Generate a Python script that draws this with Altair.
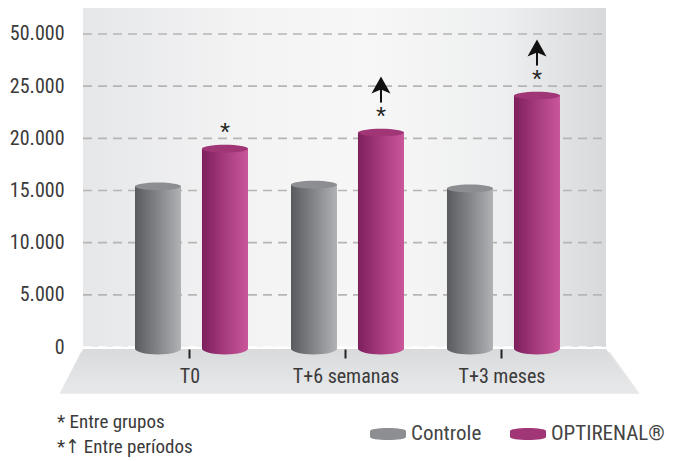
import altair as alt
import pandas as pd

# ---------------- data ----------------
times = ["T0", "T+6 semanas", "T+3 meses"]
groups = ["Controle", "OPTIRENAL®"]
controle = [15400, 15550, 15200]
optirenal = [19000, 20550, 24100]
star_flags = [True, True, True]        # OPTIRENAL: * entre grupos
arrow_flags = [False, True, True]      # OPTIRENAL: arrow entre períodos
y_ticks = [0, 5000, 10000, 15000, 20000, 25000, 30000]
y_tick_labels = ["0", "5.000", "10.000", "15.000", "20.000", "25.000", "50.000"]
notes = ["* Entre grupos", "*\u2191 Entre períodos"]

# ---------------- layout / style ----------------
W, H = 523, 339
YMAX = 32492
U = YMAX / H  # data units per pixel
FONT = "Liberation Sans Narrow, Roboto Condensed, DejaVu Sans Condensed, Arial Narrow, sans-serif"
TXT = "#3a3a3a"

rows = []
for i, t in enumerate(times):
    rows.append(dict(time=t, group=groups[0], value=controle[i], base=0))
    rows.append(dict(time=t, group=groups[1], value=optirenal[i], base=0))
df = pd.DataFrame(rows)

ann = df[df.group == groups[1]].copy().reset_index(drop=True)
ann["star"] = star_flags
ann["arrow"] = arrow_flags
stars_df = ann[ann.star]
arrows_df = ann[ann.arrow].copy()
arrows_df["lo"] = arrows_df["value"] + 30 * U
arrows_df["hi"] = arrows_df["value"] + 46 * U
arrows_df["head"] = arrows_df["value"] + 46 * U

grid_df = pd.DataFrame({"v": y_ticks})
one = pd.DataFrame({"k": [0]})


def hgrad(stops):
    return alt.Gradient(gradient="linear", x1=0, y1=0, x2=1, y2=0,
                        stops=[alt.GradientStop(offset=o, color=c) for o, c in stops])


def vgrad(stops):
    return alt.Gradient(gradient="linear", x1=0, y1=0, x2=0, y2=1,
                        stops=[alt.GradientStop(offset=o, color=c) for o, c in stops])


grad = {
    groups[0]: hgrad([(0, "#5a5b5e"), (0.5, "#848589"), (1, "#b0b2b5")]),
    groups[1]: hgrad([(0, "#7e1f5d"), (0.5, "#a63b7d"), (1, "#c9579a")]),
}
top_colors = ["#8d8e91", "#a13676"]

x_scale = alt.Scale(domain=times, paddingInner=0, paddingOuter=0.1763, align=0.527)
xo_enc = alt.XOffset("group:N", scale=alt.Scale(domain=groups, paddingInner=0.313,
                                                paddingOuter=0.3209, align=0.535))
y_scale = alt.Scale(domain=[0, YMAX], nice=False)

x_plain = alt.X("time:N", sort=times, scale=x_scale)

label_expr = " : ".join(f"datum.value == {v} ? '{l}'" for v, l in zip(y_ticks, y_tick_labels)) + " : ''"

y_axis = alt.Axis(values=y_ticks, labelExpr=label_expr, title=None, domain=False,
                  ticks=False, grid=False, labelFontSize=20, labelFont=FONT,
                  labelColor=TXT, labelPadding=19)
x_axis = alt.Axis(title=None, domain=False, labelAngle=0, tickSize=9, tickWidth=2,
                  tickColor="#222222", offset=2, labelFontSize=20, labelFont=FONT,
                  labelColor=TXT, labelPadding=8, zindex=1, grid=False)

# background panel
panel = alt.Chart(one).mark_rect(
    fill=hgrad([(0, "#e6e7e9"), (0.3, "#f3f3f4"), (0.55, "#f7f7f7"), (0.8, "#eeeff0"), (1, "#d8d9db")])
).encode(x=alt.value(0), x2=alt.value(W), y=alt.value(0), y2=alt.value(H))

# gridlines + y axis
grid = alt.Chart(grid_df).mark_rule(strokeDash=[9, 6], strokeWidth=1.6).encode(
    y=alt.Y("v:Q", scale=y_scale, axis=y_axis),
    x=alt.value(0), x2=alt.value(W),
    color=alt.when(alt.datum.v == 0).then(alt.value("#ffffff")).otherwise(alt.value("#b5b5b5")),
)

# floor (trapezoid)
floor_path = "M-0.918,-0.0716L0.9075,-0.0716L1.009,0.0716L-0.991,0.0716Z"
floor_shadow = alt.Chart(one).mark_point(
    shape=floor_path, size=580 ** 2, filled=True, fill="#d0d0d0", strokeWidth=0, opacity=0.5
).encode(x=alt.value(264), y=alt.value(365))
floor = alt.Chart(one).mark_point(
    shape=floor_path, size=573 ** 2, filled=True,
    fill=vgrad([(0, "#d9dadc"), (1, "#e7e8e9")]), strokeWidth=0, opacity=1
).encode(x=alt.value(263), y=alt.value(361.5))

layers = [panel, grid, floor_shadow, floor]

bottom_path = "M-1,-0.05L1,-0.05L1,0.07A1,0.26,0,0,1,-1,0.07Z"
top_path = "M-1,0A1,0.17,0,1,0,1,0A1,0.17,0,1,0,-1,0Z"

for gi, g in enumerate(groups):
    sub = df[df.group == g]
    body = alt.Chart(sub).mark_bar(color=grad[g]).encode(
        x=alt.X("time:N", sort=times, scale=x_scale, axis=x_axis), xOffset=xo_enc,
        y=alt.Y("value:Q", scale=y_scale, axis=y_axis),
        y2="base:Q",
    )
    bottom = alt.Chart(sub).mark_point(
        shape=bottom_path, size=46 ** 2, filled=True, fill=grad[g], strokeWidth=0, opacity=1
    ).encode(x=x_plain, xOffset=xo_enc, y=alt.Y("base:Q", scale=y_scale))
    layers += [body, bottom]

tops = alt.Chart(df).mark_point(shape=top_path, size=46 ** 2, filled=True, strokeWidth=0, opacity=1).encode(
    x=x_plain, xOffset=xo_enc,
    y=alt.Y("value:Q", scale=y_scale),
    color=alt.Color("group:N", scale=alt.Scale(domain=groups, range=top_colors),
                    legend=alt.Legend(title=None, orient="none", legendX=287, legendY=408,
                                      direction="horizontal",
                                      symbolType="M-1,-0.17A1,0.17,0,0,1,1,-0.17L1,0.17A1,0.17,0,0,1,-1,0.17Z",
                                      symbolSize=1296, symbolStrokeWidth=0, symbolOpacity=1,
                                      labelFontSize=21, labelFont=FONT, labelColor="#444444",
                                      labelOffset=5, columnPadding=28)),
)

stars = alt.Chart(stars_df).mark_text(text="*", fontSize=26, dy=-8, baseline="alphabetic",
                                       color="#222222", font="Liberation Sans, Arial, sans-serif").encode(
    x=x_plain, xOffset=xo_enc, y=alt.Y("value:Q", scale=y_scale))

shafts = alt.Chart(arrows_df).mark_rule(strokeWidth=2, color="#111111").encode(
    x=x_plain, xOffset=xo_enc,
    y=alt.Y("lo:Q", scale=y_scale), y2="hi:Q")

heads = alt.Chart(arrows_df).mark_point(
    shape="M0,-1L0.95,0.7L0,0.3L-0.95,0.7Z", size=400, filled=True, fill="#111111",
    strokeWidth=0, opacity=1
).encode(x=x_plain, xOffset=xo_enc, y=alt.Y("head:Q", scale=y_scale))

note1 = alt.Chart(one).mark_text(text=notes[0], align="left", baseline="middle", fontSize=19,
                                 font=FONT, color=TXT).encode(x=alt.value(-26), y=alt.value(414))
note2 = alt.Chart(one).mark_text(text=notes[1], align="left", baseline="middle", fontSize=19,
                                 font=FONT, color=TXT).encode(x=alt.value(-26), y=alt.value(439))

layers += [tops, stars, shafts, heads, note1, note2]

chart = alt.layer(*layers).properties(
    width=W, height=H,
    autosize=alt.AutoSizeParams(type="none"),
    padding={"left": 75, "top": 0, "right": 64, "bottom": 112},
).configure_view(strokeWidth=0)

chart.save("out.html", embed_options={"renderer": "svg", "actions": False})
